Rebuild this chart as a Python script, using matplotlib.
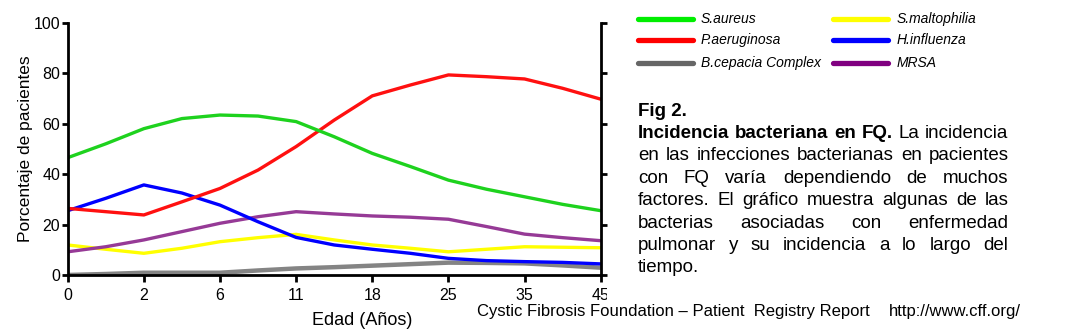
import matplotlib
matplotlib.use("Agg")
import matplotlib.pyplot as plt
from matplotlib.lines import Line2D
from matplotlib.transforms import Bbox, TransformedBbox

plt.rcParams['font.family'] = ['Liberation Sans', 'DejaVu Sans']

# age groups on a categorical axis, curves sampled at half-steps between them
age_labels = ['0', '2', '6', '11', '18', '25', '35', '45']
pos = [0, 0.5, 1, 1.5, 2, 2.5, 3, 3.5, 4, 4.5, 5, 5.5, 6, 6.5, 7]

s_aureus = [46.5, 52, 58, 62, 63.4, 63, 60.8, 54.8, 48.2, 43, 37.6, 34, 31, 28, 25.5]
p_aeruginosa = [26.4, 25.1, 23.8, 29, 34.3, 41.6, 50.9, 61.4, 71, 75.3, 79.3, 78.6, 77.7, 74, 69.7]
h_influenza = [25.5, 30.4, 35.7, 32.5, 27.7, 21.1, 14.9, 11.9, 10.2, 8.6, 6.6, 5.7, 5.3, 5, 4.4]
mrsa = [9.2, 11.2, 13.9, 17.2, 20.5, 23.1, 25.1, 24.2, 23.4, 22.9, 22.1, 19.2, 16.2, 14.8, 13.6]
s_maltophilia = [11.9, 10.2, 8.6, 10.6, 13.2, 14.8, 16.1, 13.9, 11.9, 10.6, 9.2, 10.2, 11.2, 11, 10.8]
b_cepacia = [0, 0.4, 0.9, 0.9, 0.9, 1.8, 2.6, 3.1, 3.7, 4.3, 4.9, 4.8, 4.6, 3.8, 2.9]

W, H = 1075, 335


def fx(x):
    return x / W


def fy(y):
    return 1 - y / H


fig = plt.figure(figsize=(W / 100, H / 100), dpi=100)
ax = fig.add_axes([fx(67.7), fy(275), (600.7 - 67.7) / W, (275 - 22.7) / H])

lw = 2.4
ax.plot(pos, b_cepacia, color='#6e6e6e', lw=3.2, alpha=0.85)
ax.plot(pos, s_maltophilia, color='#ffff00', lw=lw)
ax.plot(pos, mrsa, color='#963a96', lw=lw)
ax.plot(pos, h_influenza, color='#0000ff', lw=lw)
ax.plot(pos, p_aeruginosa, color='#ff1010', lw=lw)
ax.plot(pos, s_aureus, color='#1ed21e', lw=lw)

ax.set_xlim(0, 7)
ax.set_ylim(0, 100)
ax.set_xticks(range(len(age_labels)))
ax.set_xticklabels(age_labels)
ax.set_yticks([0, 20, 40, 60, 80, 100])

ax.spines['top'].set_visible(False)
for side in ['left', 'bottom', 'right']:
    ax.spines[side].set_linewidth(2)
ax.tick_params(axis='both', width=2, direction='out', labelsize=11.5)
ax.tick_params(axis='y', length=4, pad=1.5, right=True)
ax.tick_params(axis='x', length=5, pad=4)

ax.set_ylabel('Porcentaje de pacientes', fontsize=12.5)
ax.yaxis.set_label_coords(-0.065, 0.5)
ax.set_xlabel('Edad (Años)', fontsize=13)
ax.xaxis.set_label_coords(0.552, -0.147)

# last tick label is cut off in the original
last = ax.xaxis.get_major_ticks()[-1].label1
last.set_clip_on(True)
last.set_clip_box(TransformedBbox(Bbox([[0, 0], [fx(606.5), 1]]), fig.transFigure))

# legend drawn by hand, two columns
legend_items = [
    ('S.aureus', '#00ee00', 0, 0),
    ('P.aeruginosa', '#ff0000', 0, 1),
    ('B.cepacia Complex', '#666666', 0, 2),
    ('S.maltophilia', '#ffff00', 1, 0),
    ('H.influenza', '#0000ff', 1, 1),
    ('MRSA', '#800080', 1, 2),
]
col_x = [638, 833.3]
row_y = [18.7, 40, 63.3]
for name, color, c, r in legend_items:
    x0 = col_x[c]
    y = row_y[r]
    fig.add_artist(Line2D([fx(x0), fx(x0 + 55)], [fy(y), fy(y)], transform=fig.transFigure,
                          color=color, lw=3.8, solid_capstyle='round'))
    fig.text(fx(x0 + 63), fy(y), name, fontsize=10, style='italic', va='center', ha='left')

# caption, justified
caption = [
    [('Fig 2.', True)],
    [('Incidencia', True), ('bacteriana', True), ('en', True), ('FQ.', True),
     ('La', False), ('incidencia', False)],
    [(w, False) for w in 'en las infecciones bacterianas en pacientes'.split()],
    [(w, False) for w in 'con FQ varía dependiendo de muchos'.split()],
    [(w, False) for w in 'factores. El gráfico muestra algunas de las'.split()],
    [(w, False) for w in 'bacterias asociadas con enfermedad'.split()],
    [(w, False) for w in 'pulmonar y su incidencia a lo largo del'.split()],
    [('tiempo.', False)],
]
justify = [False, True, True, True, True, True, True, False]

renderer = fig.canvas.get_renderer()
left, right = 638, 1008.5
cap_size = 13.5
space = cap_size * 0.278 * 100 / 72
for i, line in enumerate(caption):
    yb = 115.7 + 22.4 * i
    texts = []
    for word, bold in line:
        t = fig.text(0, fy(yb), word, fontsize=cap_size, va='baseline', ha='left',
                     weight='bold' if bold else 'normal')
        texts.append(t)
    widths = [t.get_window_extent(renderer).width for t in texts]
    if justify[i] and len(texts) > 1:
        gap = max((right - left - sum(widths)) / (len(texts) - 1), space * 0.6)
    else:
        gap = space
    x = left
    for t, w in zip(texts, widths):
        t.set_x(fx(x))
        x += w + gap

fig.text(fx(477), fy(316), 'Cystic Fibrosis Foundation \u2013 Patient  Registry Report',
         fontsize=12, va='baseline', ha='left')
fig.text(fx(889), fy(316), 'http://www.cff.org/', fontsize=12, va='baseline', ha='left')

fig.savefig('out.png', dpi=100)
